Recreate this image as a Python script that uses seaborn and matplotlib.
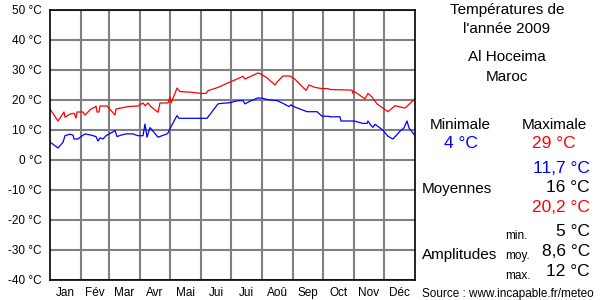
import matplotlib
matplotlib.use("Agg")
import matplotlib.pyplot as plt
import seaborn as sns
import pandas as pd

# ---- data (day of year, °C) ----
max_days = [0, 8, 14, 15, 20, 24, 26, 27, 33, 35, 41, 45, 46, 47, 49, 50, 57, 65, 66, 72, 78,
            88, 93, 95, 98, 101, 108, 110, 118, 120, 121, 125, 127, 130, 141, 151, 156, 158,
            168, 178, 183, 193, 195, 208, 210, 217, 225, 227, 233, 240, 245, 256, 259, 265,
            272, 278, 280, 302, 303, 304, 315, 318, 322, 327, 338, 345, 355, 365]
max_vals = [17, 13, 16, 14.3, 15.3, 15.6, 14, 16, 16, 15, 17, 17.6, 18, 16, 16, 18, 18, 15, 17, 17.4, 17.8,
            18, 19, 18.1, 19, 17.8, 15.9, 19, 19, 21, 19, 22.2, 24, 22.8, 22.6, 22.2, 22.2, 23.1,
            24.2, 25.7, 26.4, 27.9, 27, 29, 28.8, 27.4, 25, 26, 28, 28, 26.9, 23.2, 25, 24.2,
            23.8, 23.8, 23.5, 23.3, 22.2, 22.9, 20.4, 22.2, 21, 18.7, 16.1, 18.1, 17.3, 20.4]

min_days = [0, 8, 13, 15, 20, 23, 24, 28, 31, 35, 41, 46, 48, 50, 53, 56, 63, 65, 67, 71, 76, 83,
            88, 93, 95, 97, 100, 108, 117, 118, 121, 127, 129, 150, 157, 168, 172, 180, 188, 193,
            195, 200, 208, 212, 218, 227, 233, 239, 241, 243, 257, 267, 272, 278, 280, 290, 291,
            304, 313, 317, 318, 321, 323, 325, 333, 338, 343, 350, 354, 357, 359, 365]
min_vals = [6, 4, 5.9, 8.1, 8.6, 8.3, 7, 7, 7.8, 8.7, 8.3, 7.8, 6.3, 7.4, 7, 8.1, 9.4, 9.8, 7.8, 8.3, 8.7, 8.7,
            8.1, 8.1, 12, 7.6, 10.8, 7.6, 8.7, 9, 11.1, 14.8, 13.9, 13.9, 13.9, 18.7, 18.9, 19.1, 19.8, 19.8,
            18.7, 19.6, 20.7, 20.6, 20.1, 19.8, 18.9, 17.8, 18.4, 17.9, 16.1, 16.1, 14.6, 14.6, 14.4, 14.4, 13,
            13, 12.2, 12.2, 13, 11.5, 10.9, 11.9, 9.9, 7.9, 7, 9.6, 10.7, 13, 10.7, 8.1]

month_labels = ["Jan", "Fév", "Mar", "Avr", "Mai", "Jui", "Jui", "Aoû", "Sep", "Oct", "Nov", "Déc"]
month_lengths = [31, 28, 31, 30, 31, 30, 31, 31, 30, 31, 30, 31]
y_ticks = [-40, -30, -20, -10, 0, 10, 20, 30, 40, 50]

title_lines = ["Températures de", "l'année 2009"]
place_lines = ["Al Hoceima", "Maroc"]
stat_min, stat_max = "4 °C", "29 °C"
mean_min, mean_all, mean_max = "11,7 °C", "16 °C", "20,2 °C"
amp_min, amp_moy, amp_max = "5 °C", "8,6 °C", "12 °C"
source = "Source : www.incapable.fr/meteo"

# ---- style ----
sns.set_style("white")
plt.rcParams["font.family"] = ["Liberation Sans", "DejaVu Sans"]

fig = plt.figure(figsize=(6, 3), dpi=100)
W, H = 600, 300
ax = fig.add_axes([50 / W, 20 / H, 365 / W, 270 / H])

df_max = pd.DataFrame({"day": max_days, "t": max_vals})
df_min = pd.DataFrame({"day": min_days, "t": min_vals})

bounds = [0]
for m in month_lengths:
    bounds.append(bounds[-1] + m)
mids = [(bounds[i] + bounds[i + 1]) / 2 for i in range(12)]

ax.set_xlim(0, 365)
ax.set_ylim(-40, 50)
ax.set_xticks(bounds[1:-1])
ax.set_xticks(mids, minor=True)
ax.set_xticklabels([])
ax.set_xticklabels(month_labels, minor=True)
ax.set_yticks(y_ticks)
ax.set_yticklabels([f"{v} °C" for v in y_ticks])
ax.grid(True, which="major", color="#808080", linewidth=1.5)
ax.set_axisbelow(True)
ax.tick_params(axis="both", which="both", length=0, labelsize=8.5, colors="black")
ax.tick_params(axis="y", pad=6)
ax.tick_params(axis="x", which="minor", pad=5)
for s in ax.spines.values():
    s.set_color("black")
    s.set_linewidth(1.2)

sns.lineplot(data=df_max, x="day", y="t", ax=ax, color="#ff0000", linewidth=0.9, estimator=None, sort=False)
sns.lineplot(data=df_min, x="day", y="t", ax=ax, color="#0000ff", linewidth=0.9, estimator=None, sort=False)
ax.set_xlabel("")
ax.set_ylabel("")

def T(x, y, s, size=11, color="black", ha="center", va="center"):
    fig.text(x / W, 1 - y / H, s, fontsize=size, color=color, ha=ha, va=va)

T(507, 10, title_lines[0])
T(507, 29, title_lines[1])
T(507, 57, place_lines[0])
T(507, 77, place_lines[1])
T(460, 125, "Minimale")
T(554, 125, "Maximale")
T(461, 143, stat_min, size=12.5, color="#0000ff")
T(554, 143, stat_max, size=12.5, color="#ff0000")
T(590, 168, mean_min, size=12.5, color="#0000ff", ha="right")
T(457, 189, "Moyennes")
T(590, 188, mean_all, size=12.5, ha="right")
T(590, 208, mean_max, size=12.5, color="#ff0000", ha="right")
T(505, 236, "min.", size=8.5, ha="left")
T(590, 232, amp_min, size=12.5, ha="right")
T(460, 255, "Amplitudes")
T(505, 256, "moy.", size=8.5, ha="left")
T(590, 252, amp_moy, size=12.5, ha="right")
T(505, 276, "max.", size=8.5, ha="left")
T(590, 272, amp_max, size=12.5, ha="right")
T(508, 294, source, size=8.5)

fig.savefig("out.png", dpi=100)
